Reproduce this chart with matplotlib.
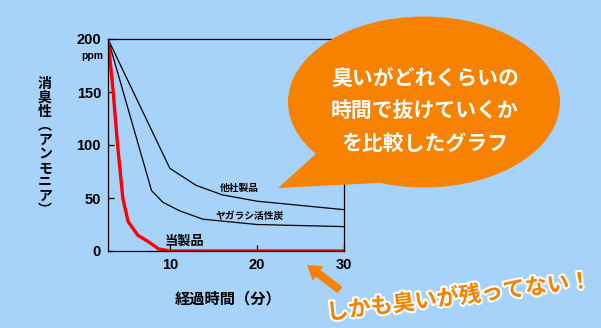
import matplotlib
matplotlib.use("Agg")
import matplotlib.pyplot as plt
from matplotlib.patches import Ellipse, Polygon, FancyArrow
import matplotlib.patheffects as pe

plt.rcParams['font.family'] = ['Noto Sans CJK JP', 'DejaVu Sans']

# data
x_ours = [2.9, 3.5, 4.0, 4.6, 5.2, 6.3, 7.5, 8.7, 10.0, 30.0]
y_ours = [200, 150, 100, 50, 28, 15, 9, 2, 0, 0]
x_other = [2.9, 10.0, 13.0, 16.0, 20.0, 25.0, 30.0]
y_other = [200, 78, 62, 53, 47, 43, 39]
x_carbon = [2.9, 7.9, 9.2, 11.1, 13.8, 20.0, 30.0]
y_carbon = [200, 57, 46, 38, 30, 25, 23]
xticks = [10, 20, 30]
yticks = [0, 50, 100, 150, 200]

bg = '#a7d3fb'
orange = '#f78200'

W, H = 601, 328
fig = plt.figure(figsize=(W / 100, H / 100), dpi=100, facecolor=bg)
ax = fig.add_axes([108 / W, 1 - 251 / H, (344 - 108) / W, (251 - 39) / H])
ax.set_facecolor('none')
ax.plot(x_other, y_other, color='black', lw=0.9)
ax.plot(x_carbon, y_carbon, color='black', lw=0.9)
ax.plot(x_ours, y_ours, color='#ff0000', lw=2.4, solid_joinstyle='round')
ax.set_xlim(2.9, 30)
ax.set_ylim(0, 200)
ax.set_xticks(xticks)
ax.set_yticks(yticks)
ax.tick_params(direction='in', length=4, width=0.9, labelsize=10.5, pad=5)
for lab in ax.get_xticklabels() + ax.get_yticklabels():
    lab.set_family(['Liberation Sans', 'DejaVu Sans'])
    lab.set_fontweight('bold')
for s in ax.spines.values():
    s.set_linewidth(0.9)

ax.text(18.0, 59.5, '他社製品', fontsize=7, fontweight='bold', ha='center', va='center')
ax.text(19.2, 33, 'ヤガラシ活性炭', fontsize=7, fontweight='bold', ha='center', va='center')
ax.text(11.7, 9.6, '当製品', fontsize=9.5, fontweight='bold', ha='center', va='center')
ax.text(-0.022, 0.918, 'ppm', transform=ax.transAxes, fontsize=7.5, fontweight='bold',
        ha='right', va='center', family=['Liberation Sans', 'DejaVu Sans'])

# axis labels
fig.text(228 / W, 1 - 298 / H, '経過時間（分）', fontsize=11, fontweight='bold',
         ha='center', va='center')
ylab = '\n'.join(['消', '臭', '性', '︵', 'ア', 'ン', 'モ', 'ニ', 'ア', '︶'])
fig.text(45 / W, 1 - 147 / H, ylab, fontsize=10, fontweight='bold',
         ha='center', va='center', linespacing=1.0)

# overlay for decorations (pixel coordinates)
ov = fig.add_axes([0, 0, 1, 1])
ov.set_xlim(0, W)
ov.set_ylim(H, 0)
ov.axis('off')
ov.set_facecolor('none')

ov.add_patch(Ellipse((424, 102), 272, 171, color=orange, lw=0))
ov.add_patch(Polygon([(278, 188), (318, 152), (378, 183)], closed=True, color=orange, lw=0))
for i, line in enumerate(['臭いがどれくらいの', '時間で抜けていくか', 'を比較したグラフ']):
    ov.text(425, 78 + i * 32.5, line, fontsize=15, fontweight='bold', color='white',
            ha='center', va='center')

ov.add_patch(FancyArrow(340, 290, -33, -25, width=8, head_width=18, head_length=14,
                        length_includes_head=True, color=orange, lw=0))

ov.text(459, 297, 'しかも臭いが残ってない！', fontsize=16, fontweight='bold', color=orange,
        ha='center', va='center', rotation=7, rotation_mode='anchor',
        path_effects=[pe.withStroke(linewidth=3, foreground='white')])

fig.savefig('out.png', dpi=100, facecolor=bg)
